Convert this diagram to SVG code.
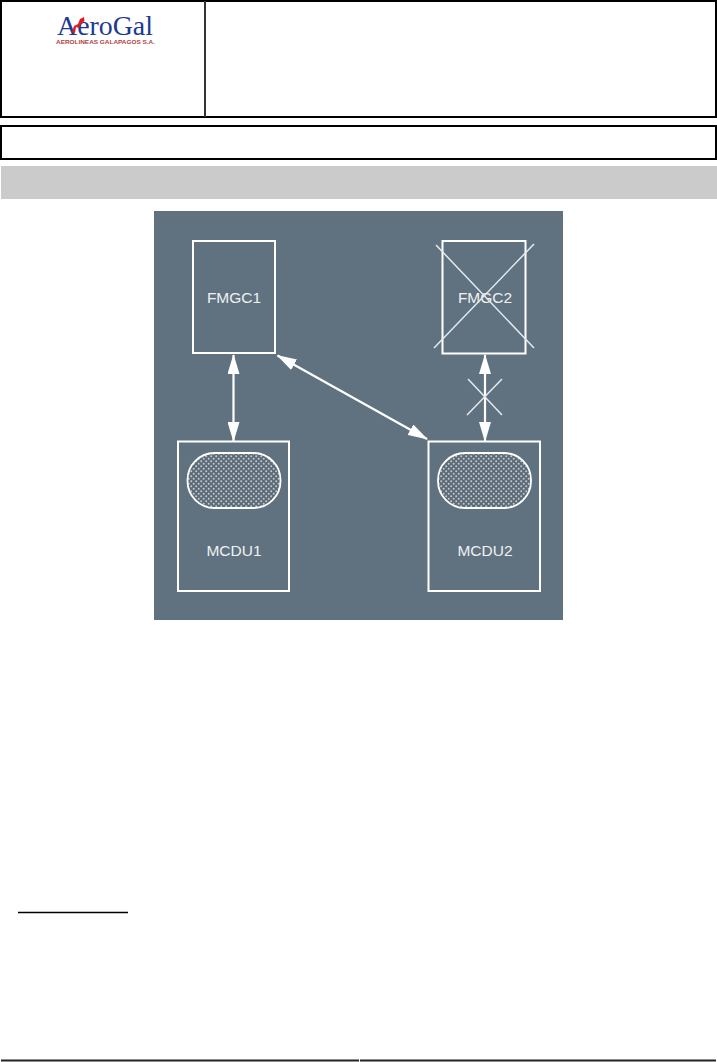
<svg xmlns="http://www.w3.org/2000/svg" width="717" height="1062" viewBox="0 0 717 1062">
<style>
.frame{fill:none;stroke:#000;stroke-width:2}
.w{fill:none;stroke:#fff;stroke-width:2}
.thin{fill:none;stroke:#e6eaed;stroke-width:1.5}
.conn{stroke:#fff;stroke-width:2.200;fill:none;marker-start:url(#ah);marker-end:url(#ah)}
.lbl{font-family:"Liberation Sans",Arial,sans-serif;font-size:15.500px;fill:#eef1f3;text-anchor:middle}
.oval{fill:url(#dots);stroke:#fff;stroke-width:1.800}
</style>
<defs>
<marker id="ah" viewBox="0 0 20 12" markerUnits="userSpaceOnUse" markerWidth="20" markerHeight="12" refX="19" refY="6" orient="auto-start-reverse"><path d="M0 0L20 6L0 12z" fill="#fff"/></marker>
<pattern id="dots" width="5" height="5" patternUnits="userSpaceOnUse"><rect width="5" height="5" fill="#5d6b78"/><circle cx="1.200" cy="1.200" r="1" fill="#c2c9ce"/><circle cx="3.700" cy="3.700" r="1" fill="#c2c9ce"/></pattern>
</defs>
<rect width="717" height="1062" fill="#fff"/>
<g id="header">
<rect class="frame" x="1" y="1" width="715" height="116"/>
<line x1="205" y1="1" x2="205" y2="117" stroke="#333" stroke-width="2"/>
<rect class="frame" x="1" y="126" width="715" height="33"/>
<rect x="1" y="166" width="716" height="33" fill="#cbcbcb"/>
</g>
<g id="logo">
<text x="57" y="35" font-family="'Liberation Serif',serif" font-size="27" fill="#1c3a94" textLength="96" lengthAdjust="spacingAndGlyphs">AeroGal</text>
<path d="M72 32L74 26L78 24L80 19L84 17L84.500 21L81 24L79 28L76 27L75 33z" fill="#e01b22"/>
<text x="56" y="44" font-family="'Liberation Sans',sans-serif" font-size="6" font-weight="bold" fill="#b5403f" textLength="99" lengthAdjust="spacingAndGlyphs">AEROLINEAS GALAPAGOS S.A.</text>
</g>
<rect id="panel" x="154" y="211" width="409" height="409" fill="#607180"/>
<g id="FMGC1"><rect class="w" x="193" y="241" width="82" height="112"/><text class="lbl" x="234" y="303">FMGC1</text></g>
<g id="FMGC2"><rect class="w" x="442.500" y="241" width="83" height="112.500"/><text class="lbl" x="485" y="303">FMGC2</text><line class="thin" x1="436" y1="245" x2="534" y2="348"/><line class="thin" x1="534" y1="244" x2="434" y2="348"/></g>
<g id="MCDU1"><rect class="w" x="178" y="441.500" width="111" height="149.500"/><rect class="oval" x="187.500" y="453" width="93" height="55" rx="27" ry="27"/><text class="lbl" x="234" y="556">MCDU1</text></g>
<g id="MCDU2"><rect class="w" x="428.500" y="441.500" width="111.500" height="149.500"/><rect class="oval" x="438" y="453" width="93" height="55" rx="27" ry="27"/><text class="lbl" x="485" y="556">MCDU2</text></g>
<g id="connectors">
<line class="conn" x1="233.500" y1="355" x2="233.500" y2="441"/>
<line class="conn" x1="485" y1="355" x2="485" y2="441"/>
<line class="conn" x1="277.500" y1="355.500" x2="427" y2="439"/>
<line class="thin" x1="468" y1="379" x2="502" y2="415"/>
<line class="thin" x1="502" y1="379" x2="467" y2="415"/>
</g>
<g id="footer">
<line x1="18" y1="912.500" x2="128" y2="912.500" stroke="#000" stroke-width="1.500"/>
<line x1="1" y1="1060.500" x2="359" y2="1060.500" stroke="#222" stroke-width="2"/>
<line x1="360" y1="1060.500" x2="716" y2="1060.500" stroke="#222" stroke-width="2"/>
</g>
</svg>
